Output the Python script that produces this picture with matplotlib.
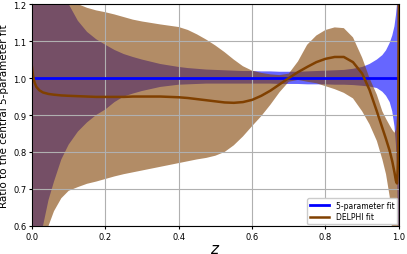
import matplotlib
matplotlib.use('Agg')
import matplotlib.pyplot as plt

# values
z = [0.0, 0.003, 0.007, 0.012, 0.02, 0.03, 0.045, 0.06, 0.08, 0.1, 0.125, 0.15,
     0.175, 0.2, 0.225, 0.25, 0.275, 0.3, 0.35, 0.4, 0.425, 0.45, 0.475, 0.5,
     0.525, 0.55, 0.575, 0.6, 0.625, 0.65, 0.675, 0.7, 0.725, 0.75, 0.775, 0.8,
     0.825, 0.85, 0.875, 0.9, 0.92, 0.94, 0.955, 0.965, 0.975, 0.982, 0.988,
     0.992, 0.995, 0.998, 1.0]

five_par = [1.0] * len(z)
five_up = [3.0, 2.5, 2.2, 1.9, 1.7, 1.55, 1.42, 1.33, 1.25, 1.2, 1.155, 1.125,
           1.105, 1.09, 1.076, 1.065, 1.057, 1.05, 1.038, 1.03, 1.027, 1.025, 1.023, 1.022,
           1.021, 1.02, 1.019, 1.019, 1.018, 1.018, 1.017, 1.017, 1.017, 1.018, 1.019, 1.02,
           1.021, 1.022, 1.025, 1.03, 1.038, 1.05, 1.062, 1.075, 1.095, 1.115, 1.14,
           1.17, 1.2, 1.3, 1.5]
five_lo = [0.0, 0.1, 0.25, 0.38, 0.5, 0.6, 0.67, 0.72, 0.78, 0.82, 0.855, 0.88,
           0.9, 0.915, 0.935, 0.95, 0.958, 0.965, 0.976, 0.982, 0.983, 0.984, 0.985, 0.985,
           0.985, 0.985, 0.985, 0.985, 0.985, 0.985, 0.984, 0.984, 0.984, 0.983, 0.983, 0.983,
           0.982, 0.982, 0.981, 0.979, 0.977, 0.973, 0.963, 0.952, 0.935, 0.91, 0.87,
           0.82, 0.75, 0.6, 0.4]

delphi = [1.03, 1.005, 0.988, 0.976, 0.967, 0.961, 0.957, 0.955, 0.953, 0.952, 0.951, 0.95,
          0.949, 0.949, 0.949, 0.949, 0.95, 0.95, 0.95, 0.948, 0.946, 0.943, 0.94, 0.937,
          0.934, 0.933, 0.935, 0.941, 0.952, 0.966, 0.983, 1.0, 1.016, 1.03, 1.043, 1.052,
          1.057, 1.057, 1.043, 1.012, 0.968, 0.91, 0.865, 0.835, 0.803, 0.775, 0.745,
          0.722, 0.715, 0.78, 1.3]
delphi_up = [2.0, 1.9, 1.8, 1.7, 1.6, 1.5, 1.4, 1.33, 1.27, 1.23, 1.2, 1.19,
             1.183, 1.178, 1.172, 1.165, 1.158, 1.153, 1.145, 1.138, 1.13, 1.118, 1.104, 1.088,
             1.07, 1.05, 1.032, 1.02, 1.014, 1.01, 1.008, 1.012, 1.045, 1.09, 1.115, 1.13,
             1.137, 1.135, 1.11, 1.055, 1.0, 0.955, 0.91, 0.89, 0.872, 0.86, 0.852,
             0.86, 0.9, 1.1, 1.6]
delphi_lo = [0.0, 0.05, 0.15, 0.27, 0.38, 0.5, 0.6, 0.64, 0.675, 0.695, 0.705, 0.714,
             0.72, 0.727, 0.734, 0.74, 0.745, 0.75, 0.76, 0.77, 0.775, 0.78, 0.784, 0.79,
             0.8, 0.818, 0.842, 0.87, 0.897, 0.928, 0.962, 0.99, 0.995, 0.99, 0.986, 0.978,
             0.97, 0.96, 0.945, 0.91, 0.875, 0.83, 0.78, 0.74, 0.68, 0.58, 0.5,
             0.4, 0.3, 0.2, 0.1]

brown = (0.5, 0.25, 0.0)

fig = plt.figure(figsize=(4.07, 2.55), dpi=100)
ax = fig.add_axes([0.0786, 0.110, 0.9014, 0.870])

ax.fill_between(z, five_lo, five_up, color='blue', alpha=0.6, lw=0)
ax.fill_between(z, delphi_lo, delphi_up, color=brown, alpha=0.6, lw=0)
ax.plot(z, five_par, color='blue', lw=2, label='5-parameter fit')
ax.plot(z, delphi, color=brown, lw=1.8, label='DELPHI fit')

ax.set_xlim(0, 1)
ax.set_ylim(0.6, 1.2)
ax.set_xticks([0.0, 0.2, 0.4, 0.6, 0.8, 1.0])
ax.set_yticks([0.6, 0.7, 0.8, 0.9, 1.0, 1.1, 1.2])
ax.tick_params(labelsize=6, length=2.5, pad=1.5)
ax.grid(True, color='#b0b0b0', lw=0.8)
ax.set_xlabel('$z$', fontsize=11, labelpad=0)
ax.set_ylabel('Ratio to the central 5-parameter fit', fontsize=7.5, labelpad=3)
ax.legend(loc='lower right', fontsize=5.5, handlelength=2.5, borderpad=0.4,
          labelspacing=0.3, borderaxespad=0.2, framealpha=1)

fig.savefig('out.png')
